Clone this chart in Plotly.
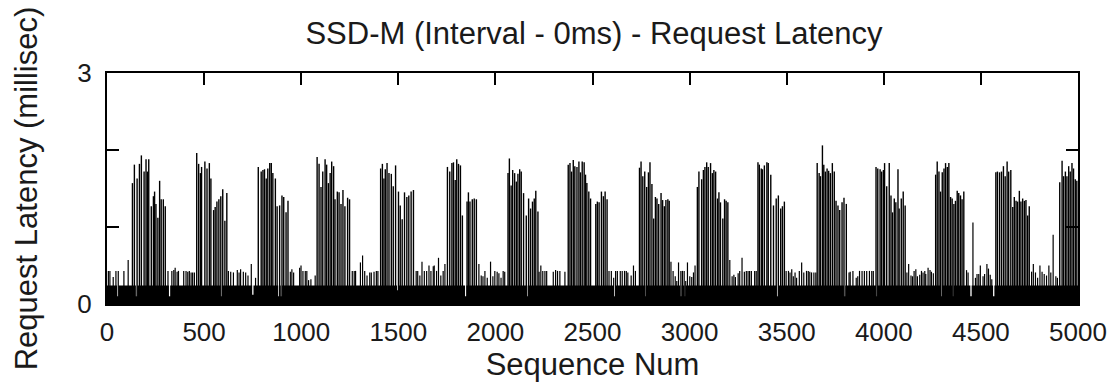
import plotly.graph_objects as go

# ---------------- data ----------------
# typical latency band (solid black floor)
BASE_SEQ = [0, 5000]
BASE_MS = [0.24, 0.24]

# tall latency spikes (bursts)
TALL_SEQ = [
    131, 141, 155, 167, 177, 191, 201, 208, 215, 228, 239, 245, 252, 262, 271, 279, 290, 300,
    462, 472, 481, 487, 504, 515, 527, 535, 549, 557, 566, 576, 586, 596, 607, 617,
    779, 794, 803, 811, 820, 828, 838, 846, 854, 867, 876, 889, 901, 910, 922, 932,
    1082, 1092, 1102, 1111, 1123, 1131, 1140, 1149, 1157, 1167, 1174, 1186, 1195, 1205, 1215, 1225, 1239, 1249,
    1409, 1418, 1426, 1433, 1442, 1452, 1464, 1474, 1486, 1501, 1510, 1520, 1532, 1544, 1554, 1566, 1578,
    1753, 1765, 1776, 1784, 1793, 1801, 1810, 1820, 1830, 1854, 1861, 1869, 1881, 1891, 1902,
    2065, 2072, 2081, 2089, 2099, 2108, 2116, 2125, 2133, 2145, 2159, 2171, 2181, 2191, 2200, 2208, 2219,
    2375, 2384, 2392, 2401, 2409, 2420, 2430, 2438, 2447, 2457, 2464, 2471, 2481, 2490, 2517, 2525, 2534, 2546, 2556, 2565, 2575,
    2742, 2750, 2759, 2769, 2779, 2788, 2796, 2806, 2815, 2824, 2832, 2841, 2853, 2861, 2870, 2878, 2888, 2895,
    3040, 3048, 3062, 3071, 3079, 3088, 3096, 3108, 3117, 3125, 3134, 3144, 3151, 3159, 3171, 3180, 3188, 3197,
    3352, 3359, 3369, 3375, 3385, 3398, 3405, 3418, 3432, 3446, 3457, 3469, 3478, 3488,
    3657, 3667, 3674, 3684, 3691, 3699, 3708, 3716, 3725, 3735, 3745, 3754, 3764, 3773, 3785, 3795, 3807,
    3960, 3969, 3981, 3989, 3998, 4004, 4015, 4028, 4037, 4045, 4054, 4062, 4073, 4079, 4090, 4100, 4110,
    4267, 4275, 4284, 4292, 4301, 4310, 4318, 4327, 4335, 4344, 4352, 4361, 4369, 4378, 4386, 4395, 4403, 4412,
    4577, 4585, 4596, 4606, 4616, 4625, 4635, 4643, 4654, 4664, 4672, 4681, 4689, 4698, 4706, 4715, 4724, 4732, 4741, 4749,
    4906, 4918, 4926, 4935, 4943, 4952, 4960, 4969, 4977, 4986, 4994,
]
TALL_MS = [
    1.57, 1.81, 1.63, 1.82, 1.93, 1.72, 1.88, 1.72, 1.88, 1.27, 1.40, 1.46, 1.30, 1.12, 1.60, 1.36, 1.36, 1.27,
    1.96, 1.82, 1.70, 1.78, 1.85, 1.76, 1.83, 1.63, 1.22, 1.26, 1.33, 1.36, 1.40, 1.49, 1.08, 1.44,
    1.78, 1.72, 1.74, 1.75, 1.63, 1.76, 1.83, 1.83, 1.70, 1.63, 1.27, 1.28, 1.41, 1.39, 1.19, 1.34,
    1.91, 1.82, 1.52, 1.72, 1.88, 1.81, 1.57, 1.70, 1.85, 1.79, 1.36, 1.46, 1.45, 1.30, 1.48, 1.27, 1.38, 1.36,
    1.76, 1.82, 1.63, 1.75, 1.83, 1.70, 1.69, 1.53, 1.80, 1.46, 1.28, 1.10, 1.45, 1.39, 1.41, 1.46, 1.48,
    1.78, 1.72, 1.83, 1.84, 1.61, 1.88, 1.82, 1.80, 1.15, 1.33, 1.45, 1.33, 1.36, 1.37, 1.36,
    1.70, 1.89, 1.54, 1.74, 1.70, 1.59, 1.69, 1.75, 1.72, 1.44, 1.15, 1.37, 1.24, 1.33, 1.37, 1.47, 1.20,
    1.81, 1.83, 1.72, 1.87, 1.79, 1.78, 1.85, 1.71, 1.85, 1.84, 1.68, 1.57, 1.46, 1.37, 1.30, 1.33, 1.32, 1.46, 1.40, 1.46, 1.36,
    1.77, 1.85, 1.66, 1.72, 1.52, 1.71, 1.84, 1.56, 1.11, 1.39, 1.37, 1.30, 1.44, 1.35, 1.27, 1.35, 1.36, 1.34,
    1.52, 1.72, 1.62, 1.74, 1.78, 1.84, 1.78, 1.83, 1.70, 1.74, 1.72, 1.37, 1.45, 1.32, 1.11, 1.36, 1.34, 1.32,
    1.84, 1.81, 1.76, 1.75, 1.80, 1.84, 1.83, 1.68, 1.28, 1.37, 1.41, 1.24, 1.27, 1.33,
    1.83, 1.70, 1.66, 2.06, 1.81, 1.72, 1.76, 1.73, 1.70, 1.83, 1.72, 1.34, 1.28, 1.22, 1.32, 1.38, 1.30,
    1.78, 1.76, 1.75, 1.72, 1.74, 1.83, 1.53, 1.83, 1.41, 1.19, 1.37, 1.32, 1.75, 1.24, 1.37, 1.46, 1.28,
    1.68, 1.85, 1.72, 1.46, 1.71, 1.76, 1.83, 1.78, 1.83, 1.39, 1.37, 1.30, 1.34, 1.47, 1.44, 1.41, 1.36, 1.46,
    1.71, 1.72, 1.71, 1.72, 1.79, 1.66, 1.85, 1.72, 1.74, 1.26, 1.39, 1.34, 1.33, 1.47, 1.33, 1.37, 1.34, 1.35, 1.15, 1.27,
    1.58, 1.86, 1.66, 1.72, 1.66, 1.79, 1.72, 1.83, 1.76, 1.62, 1.60,
]

# small latency spikes between bursts
SMALL_SEQ = [
    7, 15, 32, 46, 58, 87, 109,
    314, 334, 344, 351, 361, 368, 395, 407, 416, 424, 433, 441, 450,
    625, 637, 651, 671, 680, 688, 702, 714, 726, 743, 765,
    944, 952, 961, 992, 999, 1009, 1021, 1029, 1038, 1050, 1072,
    1263, 1273, 1280, 1305, 1316, 1327, 1339, 1353, 1361, 1375, 1387, 1395,
    1592, 1600, 1611, 1622, 1634, 1646, 1658, 1668, 1680, 1685, 1697, 1707, 1719, 1731, 1740,
    1915, 1927, 1936, 1946, 1958, 1975, 1987, 1997, 2009, 2018, 2029, 2040, 2048,
    2225, 2234, 2244, 2255, 2264, 2298, 2310, 2320, 2332, 2358,
    2585, 2597, 2609, 2619, 2628, 2643, 2653, 2665, 2674, 2682, 2699, 2711, 2721,
    2904, 2915, 2926, 2934, 2943, 2955, 2963, 2972, 2980, 2989, 3001, 3011, 3020, 3028,
    3207, 3219, 3228, 3236, 3250, 3258, 3270, 3282, 3292, 3301, 3309, 3318, 3335, 3343,
    3497, 3509, 3517, 3526, 3534, 3543, 3551, 3565, 3577, 3588, 3602, 3611, 3619, 3628, 3640, 3650,
    3821, 3827, 3841, 3858, 3866, 3875, 3888, 3900, 3912, 3926, 3938, 3946,
    4119, 4128, 4140, 4148, 4156, 4165, 4173, 4185, 4194, 4202, 4211, 4216, 4228, 4238, 4245, 4255,
    4426, 4434, 4459, 4472, 4480, 4489, 4497, 4511, 4519, 4531, 4539, 4548, 4556,
    4761, 4770, 4781, 4792, 4804, 4815, 4826, 4838, 4850, 4860, 4872, 4886, 4894,
]
SMALL_MS = [
    0.43, 0.43, 0.35, 0.43, 0.43, 0.43, 0.57,
    0.43, 0.43, 0.44, 0.47, 0.42, 0.43, 0.43, 0.43, 0.42, 0.43, 0.41, 0.41, 0.41,
    0.43, 0.42, 0.41, 0.44, 0.41, 0.45, 0.42, 0.41, 0.37, 0.52, 0.34,
    0.42, 0.45, 0.41, 0.47, 0.50, 0.43, 0.43, 0.43, 0.31, 0.32, 0.37,
    0.43, 0.43, 0.43, 0.54, 0.63, 0.43, 0.37, 0.41, 0.41, 0.42, 0.43, 0.43,
    0.43, 0.43, 0.37, 0.55, 0.43, 0.43, 0.50, 0.43, 0.49, 0.50, 0.43, 0.60, 0.37, 0.43, 0.52,
    0.52, 0.37, 0.36, 0.43, 0.34, 0.55, 0.36, 0.43, 0.42, 0.40, 0.34, 0.43, 0.42,
    0.42, 0.50, 0.43, 0.43, 0.43, 0.42, 0.44, 0.43, 0.43, 0.42,
    0.43, 0.43, 0.34, 0.43, 0.43, 0.43, 0.43, 0.43, 0.43, 0.41, 0.37, 0.50, 0.43,
    0.55, 0.43, 0.36, 0.30, 0.54, 0.43, 0.43, 0.43, 0.30, 0.54, 0.36, 0.35, 0.41, 0.50,
    0.57, 0.36, 0.38, 0.35, 0.40, 0.43, 0.60, 0.42, 0.43, 0.43, 0.43, 0.43, 0.43, 0.43,
    0.43, 0.43, 0.41, 0.45, 0.36, 0.41, 0.34, 0.43, 0.54, 0.41, 0.43, 0.43, 0.42, 0.41, 0.41, 0.41,
    0.41, 0.42, 0.43, 0.34, 0.36, 0.43, 0.43, 0.43, 0.43, 0.43, 0.43, 0.43,
    0.41, 0.52, 0.37, 0.36, 0.43, 0.45, 0.36, 0.38, 0.43, 0.41, 0.43, 0.39, 0.47, 0.44, 0.42, 0.40,
    0.44, 0.41, 1.06, 0.34, 0.39, 0.39, 0.50, 0.36, 0.39, 0.52, 0.46, 0.38, 0.32,
    0.42, 0.52, 0.41, 0.34, 0.50, 0.42, 0.39, 0.37, 0.50, 0.41, 0.90, 0.36, 0.34,
]

# requests faster than the typical band (white gaps in the floor)
DIP_SEQ = [55, 152, 322, 588, 751, 885, 898, 1497, 1847, 2168, 2614, 2776, 2955, 2977,
           3452, 3798, 3963, 4296, 4357, 4449, 4566]
DIP_MS = [0.10, 0.10, 0.10, 0.10, 0.12, 0.10, 0.10, 0.18, 0.10, 0.10, 0.10, 0.10, 0.10, 0.10,
          0.10, 0.10, 0.10, 0.10, 0.10, 0.10, 0.10]

TITLE = "SSD-M (Interval - 0ms) - Request Latency"
X_LABEL = "Sequence Num"
Y_LABEL = "Request Latency (millisec)"
X_TICKS = [0, 500, 1000, 1500, 2000, 2500, 3000, 3500, 4000, 4500, 5000]
Y_TICKS = [0, 1, 2, 3]
Y_TICK_TEXT = ["0", "", "", "3"]


def impulses(xs, ys, base=None):
    px, py = [], []
    for i, (x, y) in enumerate(zip(xs, ys)):
        px += [x, x, None]
        py += [0 if base is None else base[i], y, None]
    return px, py


FONT = "Liberation Sans, Arial, Helvetica, sans-serif"
TEXT_COLOR = "#1a1a1a"

fig = go.Figure()

# solid floor band
fig.add_trace(go.Scatter(x=BASE_SEQ, y=BASE_MS, mode="lines", fill="tozeroy",
                         fillcolor="black", line=dict(color="black", width=0),
                         hoverinfo="skip", showlegend=False))

# white gaps for the fastest requests
base_at_dip = [BASE_MS[0] + 0.01 for _ in DIP_SEQ]
dx, dy = impulses(DIP_SEQ, base_at_dip, base=DIP_MS)
fig.add_trace(go.Scatter(x=dx, y=dy, mode="lines", line=dict(color="white", width=1.3),
                         hoverinfo="skip", showlegend=False))

# small spikes
sx, sy = impulses(SMALL_SEQ, SMALL_MS)
fig.add_trace(go.Scatter(x=sx, y=sy, mode="lines", line=dict(color="black", width=1.2),
                         hoverinfo="skip", showlegend=False))

# tall spikes
tx, ty = impulses(TALL_SEQ, TALL_MS)
fig.add_trace(go.Scatter(x=tx, y=ty, mode="lines", line=dict(color="black", width=1.4),
                         hoverinfo="skip", showlegend=False))

fig.update_layout(
    width=1119, height=389,
    margin=dict(l=107, r=34, t=73, b=85),
    paper_bgcolor="white", plot_bgcolor="white",
    font=dict(family=FONT, size=26, color=TEXT_COLOR),
    title=dict(text=TITLE, x=(303 + 885) / 2 / 1119, xanchor="center", y=1 - 33 / 389,
               yanchor="middle", yref="container", font=dict(size=31, color=TEXT_COLOR)),
    showlegend=False,
)
fig.update_xaxes(
    range=[0, 5000], tickvals=X_TICKS, ticks="inside", ticklen=12, tickwidth=2,
    tickcolor="black", showline=True, linecolor="black", linewidth=2, mirror="ticks",
    showgrid=False, zeroline=False,
    title=dict(text=X_LABEL, standoff=4, font=dict(size=31)), ticklabelstandoff=4,
)
fig.update_yaxes(
    range=[0, 3], tickvals=Y_TICKS, ticktext=Y_TICK_TEXT, ticks="inside", ticklen=12,
    tickwidth=2, tickcolor="black", showline=True, linecolor="black", linewidth=2,
    mirror="ticks", showgrid=False, zeroline=False,
    title=dict(text=Y_LABEL, standoff=30, font=dict(size=31)), ticklabelstandoff=8,
)

fig.write_html("out.html")
